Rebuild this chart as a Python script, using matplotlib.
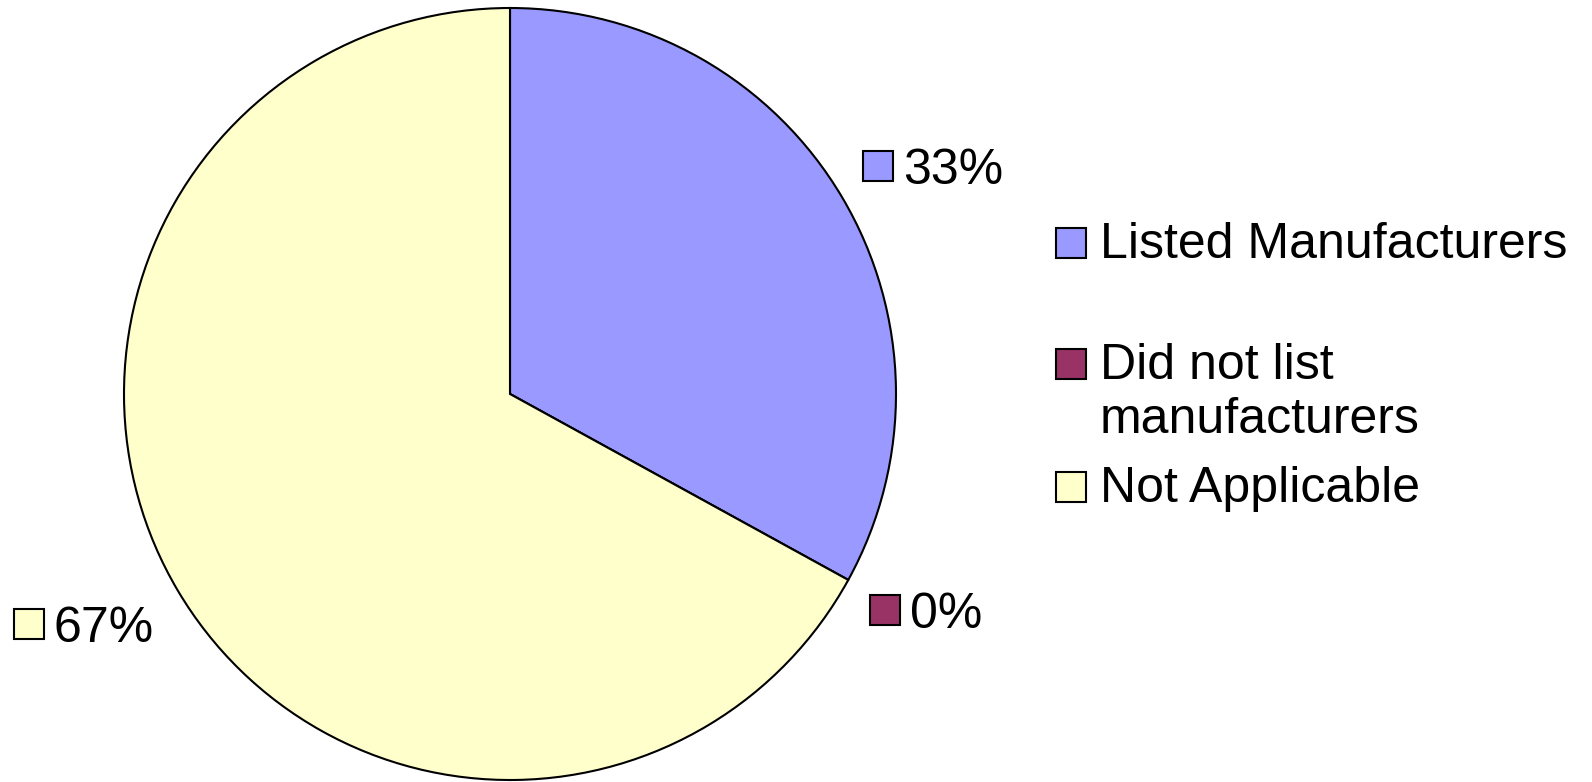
import matplotlib
matplotlib.use("Agg")
import matplotlib.pyplot as plt
from matplotlib.patches import Rectangle

plt.rcParams['font.family'] = ['Liberation Sans', 'DejaVu Sans']

# data
categories = ['Listed Manufacturers', 'Did not list\nmanufacturers', 'Not Applicable']
values = [33, 0, 67]
colors = ['#9999FF', '#993366', '#FFFFCC']

W, H = 1592, 782
fig = plt.figure(figsize=(W / 100, H / 100), dpi=100)
ax = fig.add_axes([0, 0, 1, 1])

# pie (pixel units, y up)
ax.pie(values, colors=colors, startangle=90, counterclock=False,
       center=(510, H - 394), radius=386,
       wedgeprops=dict(edgecolor='black', linewidth=1.5))

# pie() resets the limits, so set them afterwards
ax.set_xlim(0, W)
ax.set_ylim(0, H)
ax.set_aspect('equal')
ax.axis('off')

fs = 36
box = 30


def label_box(x, y, color, text):
    # x, y: centre of the square, in top-down pixel coords
    ax.add_patch(Rectangle((x - box / 2, H - y - box / 2), box, box,
                           facecolor=color, edgecolor='black', linewidth=1.5,
                           zorder=5))
    ax.text(x + box / 2 + 10, H - y, text, fontsize=fs, va='center_baseline',
            ha='left', zorder=5)


# data labels
pos_labels = [(878, 166), (885, 610), (29, 624)]
for (x, y), v, c in zip(pos_labels, values, colors):
    label_box(x, y, c, '%d%%' % v)

# legend
leg_pos = [(1071, 243), (1071, 364), (1071, 487)]
for (x, y), name, c in zip(leg_pos, categories, colors):
    ax.add_patch(Rectangle((x - box / 2, H - y - box / 2), box, box,
                           facecolor=c, edgecolor='black', linewidth=1.5))
    ax.text(x + box / 2 + 14, H - y + 21, name, fontsize=fs, va='top',
            ha='left', linespacing=1.22)

fig.savefig('out.png', dpi=100)
